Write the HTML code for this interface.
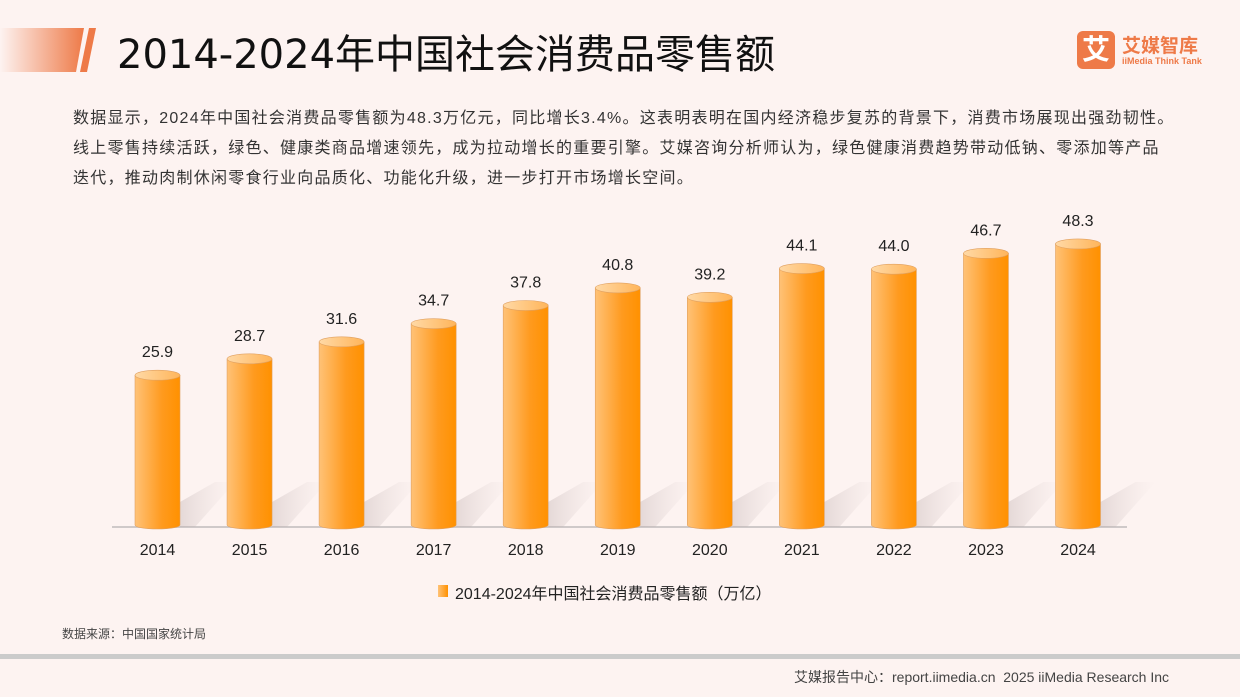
<!DOCTYPE html>
<html><head><meta charset="utf-8">
<style>
body{margin:0;width:1240px;height:697px;overflow:hidden;background:#fdf3f1;font-family:"Liberation Sans","Noto Sans CJK SC",sans-serif;position:relative}
.abs{position:absolute}
</style></head><body>
<div class="abs" style="left:0;top:28px;width:84px;height:44px;background:linear-gradient(90deg,rgba(240,120,70,0),#ee7a48);clip-path:polygon(0 0,100% 0,calc(100% - 8px) 100%,0 100%)"></div>
<div class="abs" style="left:80px;top:28px;width:16px;height:44px;background:#ee7a48;clip-path:polygon(9px 0,100% 0,7px 100%,0 100%)"></div>
<div class="abs" style="left:117px;top:22px;color:#111;white-space:nowrap;font-family:'DejaVu Sans','Noto Sans CJK SC',sans-serif;font-size:40px">2014-2024年中国社会消费品零售额</div>
<div class="abs" style="left:1077px;top:31px;width:38px;height:38px;background:#ee7a48;border-radius:6px;color:#fff;font-size:28px;line-height:38px;text-align:center;font-weight:bold">艾</div>
<div class="abs" style="left:1122px;top:31px;font-size:19px;color:#ee7a48;font-weight:bold;white-space:nowrap">艾媒智库</div>
<div class="abs" style="left:1122px;top:56px;font-size:9px;color:#ee7a48;font-weight:bold;white-space:nowrap">iiMedia Think Tank</div>
<div class="abs" style="left:73px;top:104px;width:1140px;font-size:16px;line-height:30px;color:#333;white-space:nowrap;letter-spacing:1.25px">数据显示，2024年中国社会消费品零售额为48.3万亿元，同比增长3.4%。这表明表明在国内经济稳步复苏的背景下，消费市场展现出强劲韧性。<br>线上零售持续活跃，绿色、健康类商品增速领先，成为拉动增长的重要引擎。艾媒咨询分析师认为，绿色健康消费趋势带动低钠、零添加等产品<br>迭代，推动肉制休闲零食行业向品质化、功能化升级，进一步打开市场增长空间。</div>
<svg class="abs" style="left:0;top:0" width="1240" height="697" id="chart">
<defs>
<linearGradient id="g" x1="0" x2="1"><stop offset="0" stop-color="#ffc277"/><stop offset="0.6" stop-color="#ff9a1e"/><stop offset="1" stop-color="#ff9100"/></linearGradient>
<linearGradient id="t" x1="0" x2="1"><stop offset="0" stop-color="#ffd9a6"/><stop offset="1" stop-color="#ffb55a"/></linearGradient>
<linearGradient id="sh" x1="0" x2="1"><stop offset="0" stop-color="#b8a8a8" stop-opacity="0.35"/><stop offset="1" stop-color="#d8cccc" stop-opacity="0"/></linearGradient>
</defs>
<line x1="112" y1="527" x2="1127" y2="527" stroke="#cfc9c9" stroke-width="2"/>
</svg>
<div class="abs" style="left:438px;top:585px;width:10px;height:12px;background:linear-gradient(90deg,#ffc277,#ff9100)"></div>
<div class="abs" style="left:455px;top:580px;font-size:16px;color:#222;white-space:nowrap">2014-2024年中国社会消费品零售额（万亿）</div>
<div class="abs" style="left:62px;top:625px;font-size:12px;color:#444">数据来源：中国国家统计局</div>
<div class="abs" style="left:0;top:654px;width:1240px;height:5px;background:#cbcbcb"></div>
<div class="abs" style="left:794px;top:667px;font-size:14px;color:#444;white-space:nowrap">艾媒报告中心：report.iimedia.cn &nbsp;2025 iiMedia Research Inc</div>
<script>
const categories=["2014","2015","2016","2017","2018","2019","2020","2021","2022","2023","2024"];
const values=[25.9,28.7,31.6,34.7,37.8,40.8,39.2,44.1,44.0,46.7,48.3];
const labels=["25.9","28.7","31.6","34.7","37.8","40.8","39.2","44.1","44.0","46.7","48.3"];
const svg=document.getElementById('chart');const NS="http://www.w3.org/2000/svg";
const base=527,scale=5.86,x0=157.5,step=92.05,w=45;
const xs=i=>x0+i*step, ys=v=>base-v*scale;
function mk(t,a){const e=document.createElementNS(NS,t);for(const k in a)e.setAttribute(k,a[k]);svg.appendChild(e);return e;}
categories.forEach((c,i)=>{
 const cx=xs(i),top=ys(values[i]);
 const s=mk('polygon',{points:`${cx+w/2},${base} ${cx+w/2},${base-25} ${cx+w/2+35},${base-45} ${cx+w/2+55},${base-45} ${cx+w/2+15},${base}`,fill:'url(#sh)'});
 
 
 const b=mk('path',{d:`M${cx-w/2},${top} L${cx-w/2},${base-2} A${w/2},4 0 0 0 ${cx+w/2},${base-2} L${cx+w/2},${top} Z`,fill:'url(#g)',stroke:'#e0a060','stroke-width':0.6});
 
 
 const e=mk('ellipse',{cx:cx,cy:top,rx:w/2,ry:5,fill:'url(#t)',stroke:'#e0a060','stroke-width':0.6});
 
 
 const l=mk('text',{x:cx,y:top-18,'text-anchor':'middle','font-size':16,fill:'#222'});l.textContent=labels[i];
 
 
 const t=mk('text',{x:cx,y:555,'text-anchor':'middle','font-size':16,fill:'#222'});t.textContent=c;
 
 
});
</script>
</body></html>
